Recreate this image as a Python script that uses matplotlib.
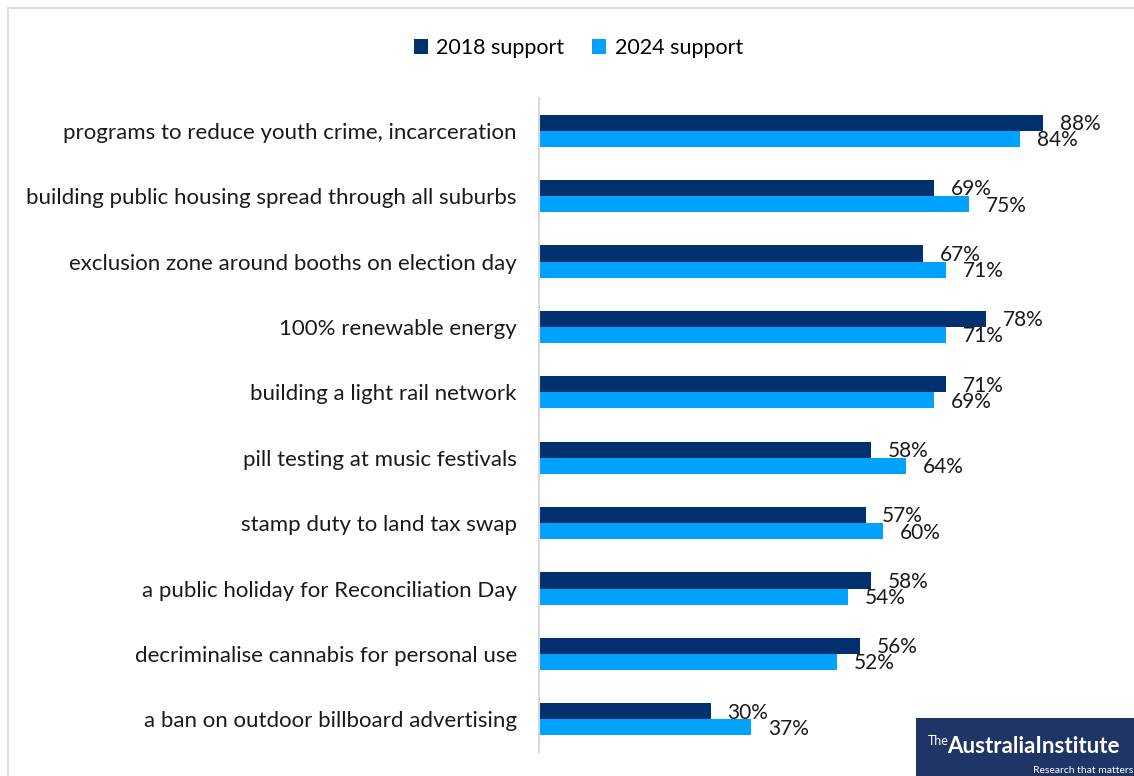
import numpy as np
import matplotlib.pyplot as plt
from matplotlib.patches import Rectangle

plt.rcParams['font.family'] = ['Lato', 'DejaVu Sans']

categories = [
    "programs to reduce youth crime, incarceration",
    "building public housing spread through all suburbs",
    "exclusion zone around booths on election day",
    "100% renewable energy",
    "building a light rail network",
    "pill testing at music festivals",
    "stamp duty to land tax swap",
    "a public holiday for Reconciliation Day",
    "decriminalise cannabis for personal use",
    "a ban on outdoor billboard advertising",
]
support_2018 = [88, 69, 67, 78, 71, 58, 57, 58, 56, 30]
support_2024 = [84, 75, 71, 71, 69, 64, 60, 54, 52, 37]
series_names = ["2018 support", "2024 support"]

col_2018 = '#00306E'
col_2024 = '#00A2FF'

fig = plt.figure(figsize=(11.34, 7.76), dpi=100)
ax = fig.add_axes([0.4753, 0.0309, 0.5053, 0.8428])

y = np.arange(len(categories))
h = 0.245
b1 = ax.barh(y - h / 2, support_2018, height=h, color=col_2018, label=series_names[0])
b2 = ax.barh(y + h / 2, support_2024, height=h, color=col_2024, label=series_names[1])

# value labels, like Excel's "outside end" labels
for bars, vals in ((b1, support_2018), (b2, support_2024)):
    for bar, v in zip(bars, vals):
        ax.annotate(f"{v}%", (v, bar.get_y() + bar.get_height() / 2),
                    xytext=(12, -1), textcoords='offset points',
                    ha='left', va='center', fontsize=15, color='#1a1a1a')

ax.set_xlim(0, 100)
ax.set_ylim(len(categories) - 0.5, -0.5)
ax.set_yticks(y)
ax.set_yticklabels(categories, fontsize=16, color='#1a1a1a')
ax.tick_params(axis='y', length=0, pad=16)
ax.set_xticks([])
for s in ['top', 'right', 'bottom']:
    ax.spines[s].set_visible(False)
ax.spines['left'].set_color('#D9D9D9')
ax.spines['left'].set_linewidth(1.5)

fig.legend(handles=[b1, b2], loc='center', bbox_to_anchor=(0.51, 0.938), ncol=2,
           frameon=False, fontsize=15.5, handlelength=0.65, handleheight=0.65,
           handletextpad=0.4, columnspacing=1.3)

# light frame around the chart area
fig.add_artist(plt.Line2D([8 / 1134, 8 / 1134], [0, 1 - 8 / 776], transform=fig.transFigure,
                          color='#D9D9D9', lw=1.2))
fig.add_artist(plt.Line2D([8 / 1134, 1], [1 - 8 / 776, 1 - 8 / 776], transform=fig.transFigure,
                          color='#D9D9D9', lw=1.2))

# logo
fig.add_artist(Rectangle((916 / 1134, 0), 1 - 916 / 1134, 58 / 776, transform=fig.transFigure,
                         facecolor='#1F3566', edgecolor='none'))
fig.text(928 / 1134, 1 - 745 / 776, "The", color='white', fontsize=9, va='baseline', ha='left')
fig.text(947 / 1134, 1 - 753 / 776, "AustraliaInstitute", color='white', fontsize=16,
         fontweight='bold', va='baseline', ha='left')
fig.text(1133 / 1134, 1 - 773 / 776, "Research that matters", color='white', fontsize=7.5,
         va='baseline', ha='right')

fig.savefig('out.png', dpi=100, facecolor='white')
